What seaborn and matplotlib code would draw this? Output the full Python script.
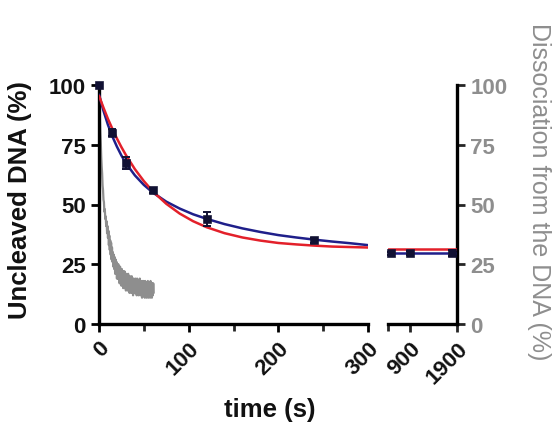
import matplotlib
matplotlib.use("Agg")
import matplotlib.pyplot as plt
import seaborn as sns
import pandas as pd
import numpy as np

# ---- data ----
point_t = [0, 15, 30, 60, 120, 240]
point_y = [100, 80, 67.5, 56, 44, 35]
point_err = [0, 1.5, 2.5, 1, 3, 1]
late_t = [480, 900, 1800]
late_y = [29.5, 29.7, 29.6]
late_err = [0.8, 0.8, 1.2]

curve_t = [0, 5, 10, 15, 20, 25, 30, 40, 50, 60, 75, 90, 105, 120, 140, 160,
           180, 200, 220, 240, 260, 280, 300]
red_y = [95.5, 90.5, 85.8, 81.6, 77.6, 74.0, 70.7, 64.8, 59.8, 55.5, 50.3, 46.2,
         43.0, 40.5, 38.0, 36.2, 34.9, 33.9, 33.3, 32.8, 32.4, 32.2, 32.0]
blue_y = [96.0, 89.2, 83.3, 78.4, 74.2, 70.5, 67.3, 62.2, 58.2, 55.0, 51.2, 48.3,
          45.9, 44.0, 41.8, 40.0, 38.5, 37.2, 36.2, 35.3, 34.5, 33.8, 33.0]
late_curve_t = [420, 1900]
red_late = [31.4, 31.4]
blue_late = [29.7, 29.7]

grey_y = [100, 92, 86, 80, 76, 70, 66, 63, 58, 56, 52, 51, 47, 48, 44, 45, 41, 43,
          38, 41, 36, 39, 33, 37, 31, 35, 29, 34, 27, 32, 26, 30, 24, 29, 23, 28,
          21, 27, 21, 26, 19, 25, 19, 25, 19, 24, 17, 24, 18, 23, 16, 23, 17, 22,
          15, 22, 16, 22, 15, 21, 14, 21, 16, 20, 14, 21, 15, 20, 13, 20, 15, 19,
          13, 20, 14, 19, 12, 19, 14, 18, 13, 19, 14, 18, 12, 19, 13, 18, 12, 18,
          13, 19, 12, 17, 13, 18, 11, 18, 13, 18, 12, 17, 11, 18, 13, 17, 11, 17,
          12, 18, 11, 17, 12, 17, 11, 18, 12, 17, 11, 17, 12, 17, 13]
grey_t = [i * 0.5 for i in range(len(grey_y))]

x_ticks1 = [0, 100, 200, 300]
x_ticks2 = [900, 1900]
y_ticks = [0, 25, 50, 75, 100]

# ---- style ----
sns.set_style("ticks")
plt.rcParams["font.family"] = ["Liberation Sans", "DejaVu Sans"]
plt.rcParams["font.weight"] = "bold"

RED = "#e3202a"
BLUE = "#1f1f8a"
GREY = "#8e8e8e"
LW_AX = 2.4
TICK_FS = 16
TITLE_FS = 18.5

fig = plt.figure(figsize=(5.54, 4.35), dpi=100)
W, H = 554, 435
bottom = (H - 325) / H
height = (325 - 86) / H
ax1 = fig.add_axes([99 / W, bottom, (368 - 99) / W, height])
ax2 = fig.add_axes([388 / W, bottom, (457 - 388) / W, height])

# grey trace
sns.lineplot(x=grey_t, y=grey_y, ax=ax1, color=GREY, lw=1.6, zorder=2)
# fits
sns.lineplot(x=curve_t, y=blue_y, ax=ax1, color=BLUE, lw=1.8, zorder=3)
sns.lineplot(x=curve_t, y=red_y, ax=ax1, color=RED, lw=1.8, zorder=4)
sns.lineplot(x=late_curve_t, y=blue_late, ax=ax2, color=BLUE, lw=1.8, zorder=3)
sns.lineplot(x=late_curve_t, y=red_late, ax=ax2, color=RED, lw=1.8, zorder=4)

# points
df1 = pd.DataFrame({"t": point_t, "y": point_y})
df2 = pd.DataFrame({"t": late_t, "y": late_y})
ax1.errorbar(point_t, point_y, yerr=point_err, fmt="none", ecolor="#111133",
             elinewidth=1.4, capsize=3, capthick=1.4, zorder=5, clip_on=False)
ax2.errorbar(late_t, late_y, yerr=late_err, fmt="none", ecolor="#111133",
             elinewidth=1.4, capsize=3, capthick=1.4, zorder=5, clip_on=False)
sns.scatterplot(data=df1, x="t", y="y", ax=ax1, marker="s", s=32,
                color="#111133", edgecolor="#111133", zorder=6, clip_on=False)
sns.scatterplot(data=df2, x="t", y="y", ax=ax2, marker="s", s=32,
                color="#111133", edgecolor="#111133", zorder=6, clip_on=False)

# axes limits
ax1.set_xlim(0, 300)
ax2.set_xlim(420, 1900)
for ax in (ax1, ax2):
    ax.set_ylim(0, 100)
    ax.set_xlabel("")
    ax.set_ylabel("")
    ax.patch.set_alpha(0)

# ax1 spines
for s in ("top", "right"):
    ax1.spines[s].set_visible(False)
for s in ("left", "bottom"):
    ax1.spines[s].set_linewidth(LW_AX)
    ax1.spines[s].set_color("black")
ax1.set_xticks(x_ticks1)
ax1.set_xticks([50, 150, 250], minor=True)
ax1.set_yticks(y_ticks)
ax1.tick_params(axis="both", which="major", length=6, width=2, direction="out",
                labelsize=TICK_FS, color="black", labelcolor="#111111")
ax1.tick_params(axis="x", which="minor", length=5, width=2, direction="out")
ax1.set_xticklabels([str(v) for v in x_ticks1], rotation=45, ha="right",
                    rotation_mode="anchor", fontweight="bold")
ax1.set_yticklabels([str(v) for v in y_ticks], fontweight="bold")

# ax2 spines
ax2.spines["top"].set_visible(False)
ax2.spines["left"].set_visible(False)
for s in ("right", "bottom"):
    ax2.spines[s].set_linewidth(LW_AX)
    ax2.spines[s].set_color("black")
ax2.set_xticks(x_ticks2)
ax2.set_xticks([420], minor=True)
ax2.tick_params(axis="x", which="minor", length=5, width=2, direction="out")
ax2.tick_params(axis="x", which="major", length=6, width=2, direction="out",
                labelsize=TICK_FS, labelcolor="#111111")
ax2.set_xticklabels([str(v) for v in x_ticks2], rotation=45, ha="right",
                    rotation_mode="anchor", fontweight="bold")
ax2.yaxis.tick_right()
ax2.set_yticks(y_ticks)
ax2.tick_params(axis="y", which="major", length=6, width=2, direction="out",
                labelsize=TICK_FS, labelcolor=GREY, left=False, right=True)
ax2.set_yticklabels([str(v) for v in y_ticks], fontweight="bold")

# labels
fig.text(20 / W, 1 - 200 / H, "Uncleaved DNA (%)", rotation=90, ha="center",
         va="center", fontsize=TITLE_FS, fontweight="bold", color="#111111")
fig.text(539 / W, 1 - 192 / H, "Dissociation from the DNA (%)", rotation=-90,
         ha="center", va="center", fontsize=18, fontweight="normal", color=GREY)
fig.text(270 / W, 1 - 410 / H, "time (s)", ha="center", va="center",
         fontsize=TITLE_FS, fontweight="bold", color="#111111")

fig.savefig("out.png", dpi=100)
